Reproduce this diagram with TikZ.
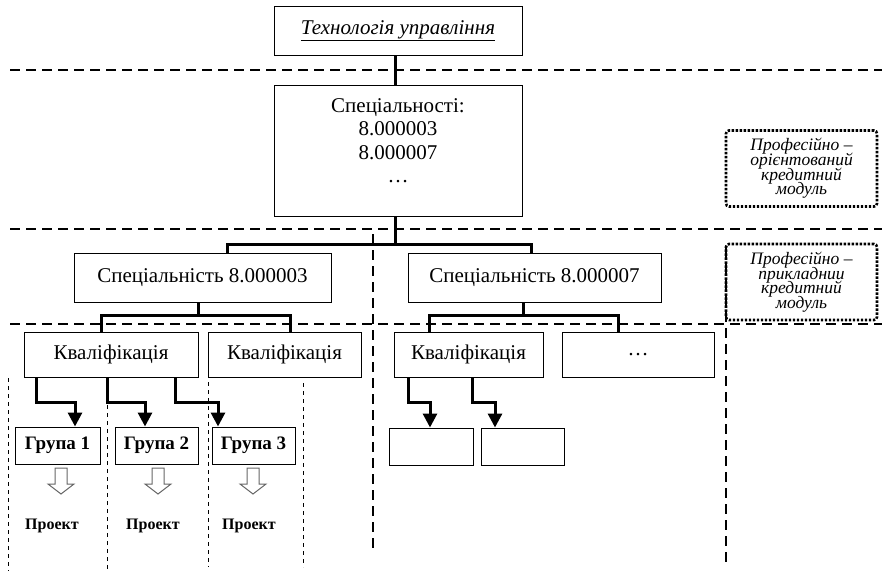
\documentclass[tikz,border=0pt]{standalone}
\usepackage{fontspec}
\setmainfont{Liberation Serif}
\usetikzlibrary{arrows.meta}
\begin{document}
\begin{tikzpicture}[x=1pt,y=-1pt,
  box/.style={draw, line width=1pt, inner sep=0pt, align=center,
    font=\fontsize{21}{23.5}\selectfont},
  grp/.style={box, minimum height=37, font=\bfseries\fontsize{19}{20}\selectfont},
  tree/.style={line width=3pt},
  arr/.style={tree, -{Triangle[length=14pt,width=14pt]}},
  sep/.style={line width=1.3pt, dash pattern=on 10pt off 6pt},
  vsep/.style={line width=1pt, dash pattern=on 4pt off 4pt},
  dotbox/.style={draw, line width=2.6pt, dash pattern=on 2.4pt off 1.6pt,
    rounded corners=3pt, minimum width=151, minimum height=76, inner sep=0pt,
    align=center, font=\itshape\fontsize{17.5}{14.5}\selectfont},
  hollow/.style={draw=black!60, line width=1pt, fill=white},
  proj/.style={font=\bfseries\fontsize{16}{18}\selectfont, inner sep=0pt}
]
\useasboundingbox (0,0) rectangle (882,571);

% separators
\draw[sep] (10,70) -- (882,70);
\draw[sep] (10,229) -- (882,229);
\draw[sep] (10,324) -- (882,324);
\draw[sep] (373,234) -- (373,553);
\draw[sep] (726,248) -- (726,562);
\draw[vsep] (8,378) -- (8,571);
\draw[vsep] (107,405) -- (107,571);
\draw[vsep] (208,382) -- (208,567);
\draw[vsep] (303,383) -- (303,567);

% boxes
\node[box, minimum width=248, minimum height=49, font=\itshape\fontsize{21}{23.5}\selectfont]
  (top) at (398,30.5) {\underline{Технологія управління}};
\node[box, minimum width=248, minimum height=131] (spec) at (398,150.5) {};
\node[inner sep=0pt, align=center, anchor=north, font=\fontsize{21}{23.5}\selectfont]
  (spectext) at (398,98) {Спеціальності:\\8.000003\\8.000007\\…};
\node[box, minimum width=257, minimum height=49] (s1) at (202.5,277.5) {Спеціальність 8.000003};
\node[box, minimum width=253, minimum height=49] (s2) at (534.5,277.5) {Спеціальність 8.000007};
\node[box, minimum width=174, minimum height=45] (k1) at (111,354.5) {Кваліфікація};
\node[box, minimum width=153, minimum height=45] (k2) at (284.5,354.5) {Кваліфікація};
\node[box, minimum width=149, minimum height=45] (k3) at (468.5,354.5) {Кваліфікація};
\node[box, minimum width=152, minimum height=45] (k4) at (638,354.5) {…};
\node[grp, minimum width=85] (g1) at (57.5,445.5) {Група 1};
\node[grp, minimum width=83] (g2) at (156.5,445.5) {Група 2};
\node[grp, minimum width=83] (g3) at (253.5,445.5) {Група 3};
\node[grp, minimum width=84] (e1) at (431,446.5) {};
\node[grp, minimum width=83] (e2) at (522.5,446.5) {};
\node[proj] (p1) at (52,526) {Проект};
\node[proj] (p2) at (153,526) {Проект};
\node[proj] (p3) at (249,526) {Проект};
\node[dotbox] (m1) at (801.5,168.5) {Професійно –\\[-2.5pt]орієнтований\\[-2.5pt]кредитний\\[-2.5pt]модуль};
\node[dotbox] (m2) at (801.5,282) {Професійно –\\[-2.5pt]прикладнии\\[-2.5pt]кредитний\\[-2.5pt]модуль};

% tree connectors
\coordinate (tx) at (395,0);
\coordinate (cL) at (227,244);
\coordinate (cR) at (531,244);
\coordinate (a1) at (198,315);
\coordinate (aL) at (101,315);
\coordinate (aR) at (290,315);
\coordinate (b1) at (523,315);
\coordinate (bL) at (429,315);
\coordinate (bR) at (618,315);
\draw[tree] (top.south -| tx) -- (spec.north -| tx);
\draw[tree] (spec.south -| tx) -- (tx |- cL);
\draw[tree] (s1.north -| cL) -- (cL) -- (cR) -- (s2.north -| cR);
\draw[tree] (s1.south -| a1) -- (a1);
\draw[tree] (k1.north -| aL) -- (aL) -- (aR) -- (k2.north -| aR);
\draw[tree] (s2.south -| b1) -- (b1);
\draw[tree] (k3.north -| bL) -- (bL) -- (bR) -- (k4.north -| bR);

% arrows to groups
\draw[arr] ([xshift=-75pt]k1.south) -- ++(0,25) -| ([xshift=17.5pt]g1.north);
\draw[arr] ([xshift=-4pt]k1.south) -- ++(0,25) -| ([xshift=-11.5pt]g2.north);
\draw[arr] ([xshift=64pt]k1.south) -- ++(0,25) -| ([xshift=-35.5pt]g3.north);
\draw[arr] ([xshift=-60.5pt]k3.south) -- ++(0,25) -| ([xshift=-1pt]e1.north);
\draw[arr] ([xshift=3.5pt]k3.south) -- ++(0,25) -| ([xshift=-27.5pt]e2.north);

% hollow arrows
\foreach \cx in {61,158,253}{
  \draw[hollow] (\cx-6,468) -- (\cx+6,468) -- (\cx+6,484) -- (\cx+13,484)
    -- (\cx,494) -- (\cx-13,484) -- (\cx-6,484) -- cycle;
}
\end{tikzpicture}
\end{document}
